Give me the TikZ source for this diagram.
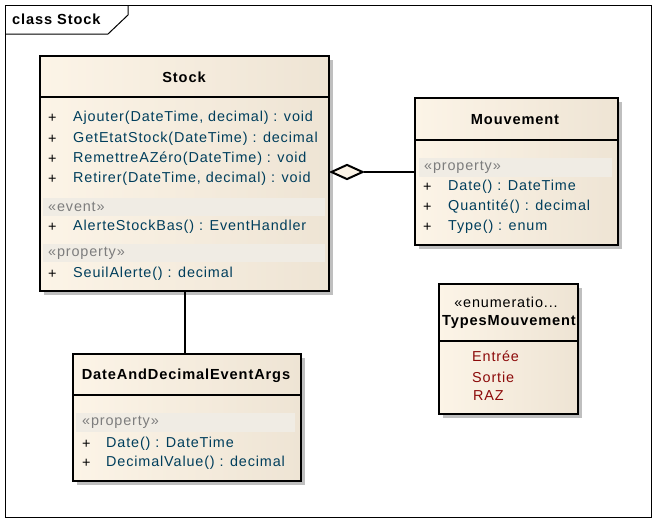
\documentclass[tikz,border=0pt]{standalone}
\usepackage{fontspec}
\setmainfont{Liberation Sans}[LetterSpace=6]
\usetikzlibrary{positioning,shapes.geometric,shadows}
\definecolor{umlfillL}{RGB}{252,244,231}
\definecolor{umlfillR}{RGB}{238,228,212}
\definecolor{umlband}{RGB}{240,236,228}
\definecolor{umltext}{RGB}{0,62,92}
\definecolor{umlstereo}{RGB}{125,125,125}
\definecolor{umlenum}{RGB}{140,10,10}

\begin{document}
\begin{tikzpicture}[x=1pt, y=-1pt,
  font=\fontsize{14.4}{16}\selectfont,
  classbox/.style={draw, line width=2pt, anchor=north west, inner sep=0pt,
                   left color=umlfillL, right color=umlfillR,
                   drop shadow={shadow xshift=4pt, shadow yshift=-4pt, fill=black!25, opacity=1}},
  title/.style={inner sep=0pt, font=\fontsize{14.6}{16}\selectfont\bfseries},
  sep/.style={line width=2pt},
  band/.style={fill=umlband},
  stereo/.style={anchor=west, inner sep=0pt, text=umlstereo},
  vis/.style={anchor=west, inner sep=0pt},
  member/.style={anchor=west, inner sep=0pt, text=umltext},
  literal/.style={anchor=west, inner sep=0pt, text=umlenum},
  assoc/.style={line width=2pt}]
\useasboundingbox (0,0) rectangle (657,522);
% diagram frame
\draw[line width=1pt] (5,5) rectangle (651,517);
\draw[line width=1pt] (5,34) -- (108,34) -- (128,15) -- (128,5);
\node[title, anchor=west] (frametitle) at (12,19) {class Stock};

% class Stock
\node[classbox, minimum width=289pt, minimum height=235pt] (stock) at (39,55) {};
\draw[sep] (stock.west |- 0,97) -- (stock.east |- 0,97);
\node[title] (stockname) at (184,77) {Stock};
\foreach \y/\txt [count=\i] in {118/{Ajouter(DateTime, decimal) : void},
    139/{GetEtatStock(DateTime) : decimal}, 159/{RemettreAZéro(DateTime) : void},
    179/{Retirer(DateTime, decimal) : void}}{
  \node[vis] (stockvis\i) at (48,\y) {+};
  \node[member] (stockop\i) at (73,\y) {\txt};
}
\fill[band] (43,198) rectangle (325,216);
\node[stereo] (stockevent) at (48,207) {«event»};
\node[vis] (stockvis5) at (48,227) {+};
\node[member] (stockev1) at (73,227) {AlerteStockBas() : EventHandler};
\fill[band] (43,244) rectangle (325,262);
\node[stereo] (stockprop) at (48,253) {«property»};
\node[vis] (stockvis6) at (48,274) {+};
\node[member] (stockpr1) at (73,274) {SeuilAlerte() : decimal};

% class Mouvement
\node[classbox, minimum width=203pt, minimum height=147pt] (mouv) at (414,97) {};
\draw[sep] (mouv.west |- 0,140) -- (mouv.east |- 0,140);
\node[title] (mouvname) at (515,120) {Mouvement};
\fill[band] (419,158) rectangle (612,177);
\node[stereo] (mouvprop) at (424,167) {«property»};
\foreach \y/\txt [count=\i] in {187/{Date() : DateTime}, 207/{Quantité() : decimal},
    227/{Type() : enum}}{
  \node[vis] (mouvvis\i) at (423,\y) {+};
  \node[member] (mouvpr\i) at (448,\y) {\txt};
}

% class DateAndDecimalEventArgs
\node[classbox, minimum width=228pt, minimum height=127pt] (args) at (72,353) {};
\draw[sep] (args.west |- 0,395) -- (args.east |- 0,395);
\node[title] (argsname) at (186,376) {DateAndDecimalEventArgs};
\fill[band] (76,413) rectangle (295,432);
\node[stereo] (argsprop) at (82,422) {«property»};
\foreach \y/\txt [count=\i] in {444/{Date() : DateTime}, 463/{DecimalValue() : decimal}}{
  \node[vis] (argsvis\i) at (82,\y) {+};
  \node[member] (argspr\i) at (106,\y) {\txt};
}

% enumeration TypesMouvement
\node[classbox, minimum width=139pt, minimum height=130pt] (types) at (438,283) {};
\draw[sep] (types.west |- 0,341) -- (types.east |- 0,341);
\node[inner sep=0pt] (typesstereo) at (506,302) {«enumeratio...};
\node[title] (typesname) at (509,322) {TypesMouvement};
\node[literal] (lit1) at (472,356) {Entrée};
\node[literal] (lit2) at (472,377) {Sortie};
\node[literal] (lit3) at (473,396) {RAZ};

% relations
\node[draw, diamond, line width=2pt, fill=umlfillL, aspect=2, minimum width=32pt,
      minimum height=15pt, inner sep=0pt, anchor=west] (agg) at (stock.east |- 0,172) {};
\draw[assoc] (agg.east) -- (agg.east -| mouv.west);
\draw[assoc] (stock.south) -- (stock.south |- args.north);
\end{tikzpicture}
\end{document}
